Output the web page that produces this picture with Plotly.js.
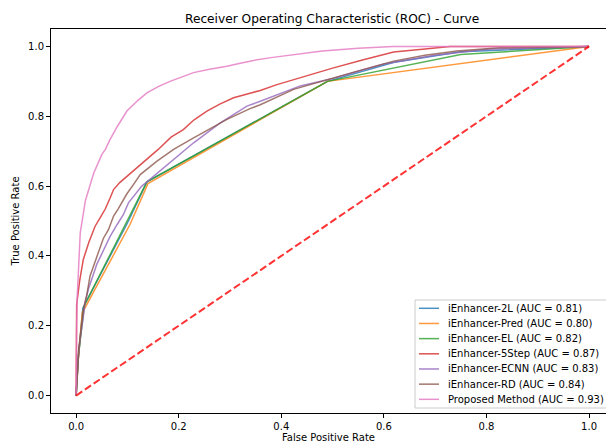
<!DOCTYPE html>
<html>
<head>
<meta charset="utf-8">
<script src="https://cdn.plot.ly/plotly-3.0.1.min.js"></script>
<style>html,body{margin:0;padding:0;background:#fff;}#chart{width:606px;height:444px;}</style>
</head>
<body>
<div id="chart"></div>
<script>
// ---- data ----
const names = [
  "iEnhancer-2L (AUC = 0.81)",
  "iEnhancer-Pred (AUC = 0.80)",
  "iEnhancer-EL (AUC = 0.82)",
  "iEnhancer-5Step (AUC = 0.87)",
  "iEnhancer-ECNN (AUC = 0.83)",
  "iEnhancer-RD (AUC = 0.84)",
  "Proposed Method (AUC = 0.93)"
];
const colors = ["#1f77b4","#ff7f0e","#2ca02c","#d62728","#9467bd","#8c564b","#e377c2"];

const fpr_2L = [0,0.004,0.013,0.102,0.138,0.49,0.62,0.75,1];
const tpr_2L = [0,0.10,0.25,0.50,0.612,0.90,0.955,0.985,1];

const fpr_Pred = [0,0.004,0.012,0.105,0.14,0.49,1];
const tpr_Pred = [0,0.10,0.237,0.49,0.607,0.90,1];

const fpr_EL = [0,0.004,0.016,0.108,0.138,0.49,0.75,1];
const tpr_EL = [0,0.11,0.258,0.528,0.612,0.90,0.977,1];

const fpr_5Step = [0,0,0.001,0.007,0.014,0.025,0.037,0.047,0.057,0.066,0.073,0.085,0.099,0.118,0.135,0.144,0.16,0.185,0.209,0.23,0.255,0.28,0.307,0.339,0.359,0.39,0.424,0.46,0.50,0.56,0.619,0.68,0.729,1];
const tpr_5Step = [0,0.14,0.26,0.33,0.39,0.44,0.485,0.51,0.535,0.565,0.59,0.61,0.628,0.652,0.675,0.686,0.705,0.74,0.762,0.79,0.815,0.835,0.853,0.866,0.874,0.89,0.905,0.92,0.938,0.962,0.984,0.993,1,1];

const fpr_ECNN = [0,0.005,0.018,0.024,0.040,0.066,0.080,0.092,0.102,0.128,0.138,0.183,0.229,0.281,0.333,0.359,0.437,0.5,0.6,0.7,0.8,1];
const tpr_ECNN = [0,0.13,0.27,0.305,0.375,0.455,0.49,0.518,0.552,0.60,0.612,0.667,0.724,0.781,0.829,0.843,0.887,0.908,0.95,0.975,0.992,1];

const fpr_RD = [0,0.005,0.014,0.021,0.027,0.034,0.053,0.063,0.073,0.082,0.099,0.112,0.125,0.157,0.19,0.229,0.294,0.339,0.359,0.424,0.489,0.55,0.619,0.68,0.742,0.826,1];
const tpr_RD = [0,0.132,0.246,0.29,0.342,0.37,0.45,0.475,0.514,0.535,0.578,0.605,0.633,0.671,0.705,0.738,0.791,0.822,0.833,0.877,0.905,0.93,0.958,0.975,0.987,0.996,1];

const fpr_Prop = [0,0,0.001,0.002,0.005,0.008,0.018,0.034,0.05,0.057,0.066,0.08,0.099,0.12,0.138,0.16,0.183,0.205,0.229,0.26,0.294,0.32,0.346,0.38,0.424,0.48,0.55,0.618,1];
const tpr_Prop = [0,0.1,0.2,0.28,0.38,0.466,0.558,0.636,0.69,0.705,0.733,0.77,0.815,0.845,0.867,0.885,0.90,0.913,0.925,0.935,0.943,0.952,0.96,0.968,0.977,0.987,0.995,1,1];

const diag_x = [0,1];
const diag_y = [0,1];

const xTicks = [0,0.2,0.4,0.6,0.8,1.0];
const xTickText = ["0.0","0.2","0.4","0.6","0.8","1.0"];
const yTicks = [0,0.2,0.4,0.6,0.8,1.0];
const yTickText = ["0.0","0.2","0.4","0.6","0.8","1.0"];

const series = [
  [fpr_2L,tpr_2L],[fpr_Pred,tpr_Pred],[fpr_EL,tpr_EL],[fpr_5Step,tpr_5Step],
  [fpr_ECNN,tpr_ECNN],[fpr_RD,tpr_RD],[fpr_Prop,tpr_Prop]
];

const FONT = "DejaVu Sans";
const W = 606, H = 444, ML = 51, MR = 0, MT = 29, MB = 31;
const PW = W - ML - MR, PH = H - MT - MB;
const px2x = p => (p - ML) / PW;          // pixel -> paper x
const px2y = p => (H - MB - p) / PH;      // pixel -> paper y

const traces = series.map((s,i)=>({
  x:s[0], y:s[1], type:"scatter", mode:"lines", name:names[i], showlegend:false,
  line:{color:colors[i], width:1.5}, opacity:0.8, hoverinfo:"skip"
}));
traces.push({x:diag_x, y:diag_y, type:"scatter", mode:"lines", showlegend:false,
  line:{color:"rgba(255,0,0,0.8)", width:2, dash:"7.4px,3.2px"}, hoverinfo:"skip"});

// legend drawn as a matplotlib-style box (lower right)
const shapes = [];
const annotations = [];
const boxL = 415, boxR = 610, boxT = 300, boxB = 408, rowTop = 308.3, rowStep = 15.17;
shapes.push({type:"rect", xref:"paper", yref:"paper", x0:px2x(boxL), x1:px2x(boxR), y0:px2y(boxB), y1:px2y(boxT),
  line:{color:"#cccccc", width:1}, fillcolor:"rgba(255,255,255,0.8)", layer:"above"});
names.forEach((n,i)=>{
  const yc = rowTop + i*rowStep;
  shapes.push({type:"line", xref:"paper", yref:"paper", x0:px2x(419), x1:px2x(439), y0:px2y(yc), y1:px2y(yc),
    line:{color:colors[i], width:1.5}, opacity:0.8, layer:"above"});
  annotations.push({xref:"paper", yref:"paper", x:px2x(446), y:px2y(yc), xanchor:"left", yanchor:"middle",
    text:n, showarrow:false, font:{family:FONT, size:10, color:"#000"}});
});

const axisCommon = {
  showgrid:false, zeroline:false, showline:true, linecolor:"#000", linewidth:1,
  ticks:"outside", ticklen:4, tickwidth:1, tickcolor:"#000",
  tickfont:{family:FONT, size:10, color:"#000"}, tickmode:"array"
};

const layout = {
  width:W, height:H,
  margin:{l:ML, r:MR, t:MT, b:MB, pad:0},
  paper_bgcolor:"#fff", plot_bgcolor:"#fff",
  font:{family:FONT, size:10, color:"#000"},
  title:{text:"Receiver Operating Characteristic (ROC) - Curve", font:{family:FONT, size:12.2, color:"#000"},
    xref:"container", x:0.548, xanchor:"center", yref:"container", y:0.958, yanchor:"middle"},
  xaxis:Object.assign({}, axisCommon, {range:[-0.049,1.033], tickvals:xTicks, ticktext:xTickText, mirror:true,
    title:{text:"False Positive Rate", font:{family:FONT, size:10, color:"#000"}, standoff:2}}),
  yaxis:Object.assign({}, axisCommon, {range:[-0.05,1.05], tickvals:yTicks, ticktext:yTickText,
    title:{text:"True Positive Rate", font:{family:FONT, size:10, color:"#000"}, standoff:6}}),
  showlegend:false,
  shapes:shapes,
  annotations:annotations
};

Plotly.newPlot("chart", traces, layout, {displayModeBar:false, staticPlot:true});
</script>
</body>
</html>
